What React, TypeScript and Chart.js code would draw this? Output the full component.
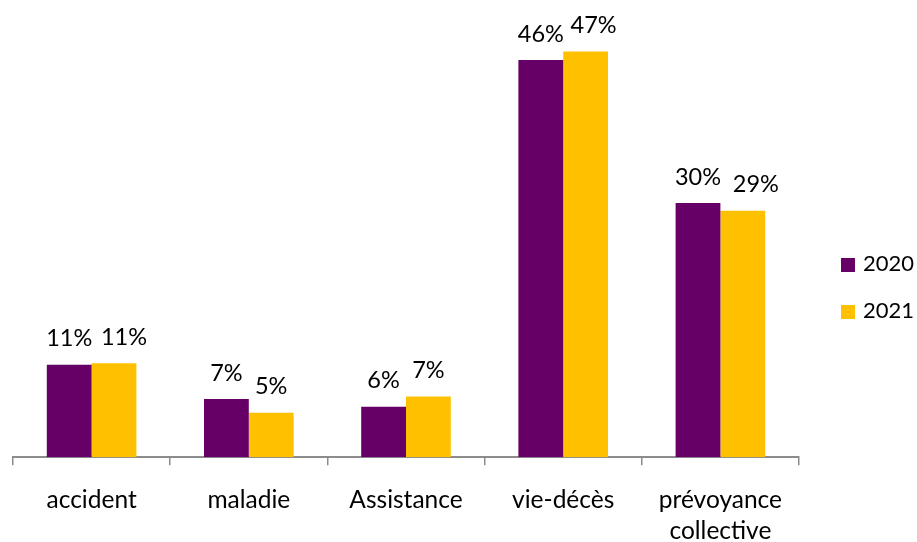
import React, { useEffect, useRef } from 'react';
import { Chart, registerables } from 'chart.js';

Chart.register(...registerables);

const categories: (string | string[])[] = ['accident', 'maladie', 'Assistance', 'vie-décès', ['prévoyance', 'collective']];
const seriesNames = ['2020', '2021'];
const values2020 = [10.8, 6.8, 5.9, 46.4, 29.7];
const values2021 = [11.0, 5.2, 7.1, 47.4, 28.8];
const labels2020 = ['11%', '7%', '6%', '46%', '30%'];
const labels2021 = ['11%', '5%', '7%', '47%', '29%'];
const colors = ['#660066', '#FFC000'];

const FONT = 'Lato';

const valueLabels = {
  id: 'valueLabels',
  afterDatasetsDraw(chart: any, _args: any, opts: any) {
    const ctx = chart.ctx;
    ctx.save();
    ctx.font = `23.5px ${FONT}`;
    ctx.fillStyle = '#000000';
    ctx.textAlign = 'center';
    ctx.textBaseline = 'alphabetic';
    chart.data.datasets.forEach((ds: any, i: number) => {
      const meta = chart.getDatasetMeta(i);
      const shifts = (opts.shift && opts.shift[i]) || [];
      meta.data.forEach((el: any, j: number) => {
        ctx.fillText(ds.valueLabels[j], el.x + (shifts[j] || 0), el.y - 18.5);
      });
    });
    ctx.restore();
  },
};

const sideLegend = {
  id: 'sideLegend',
  afterDraw(chart: any, _args: any, opts: any) {
    const ctx = chart.ctx;
    ctx.save();
    ctx.font = `${opts.fontSize}px ${FONT}`;
    ctx.textAlign = 'left';
    ctx.textBaseline = 'middle';
    chart.data.datasets.forEach((ds: any, i: number) => {
      const cy = opts.y + i * opts.step;
      ctx.fillStyle = ds.backgroundColor;
      ctx.fillRect(opts.x, cy - opts.box / 2, opts.box, opts.box);
      ctx.fillStyle = '#000000';
      ctx.fillText(ds.label, opts.x + opts.box + opts.gap, cy - 1);
    });
    ctx.restore();
  },
};

export default function App() {
  const ref = useRef<HTMLCanvasElement>(null);
  useEffect(() => {
    if (!ref.current) return;
    const chart = new Chart(ref.current, {
      type: 'bar',
      data: {
        labels: categories as any,
        datasets: [
          { label: seriesNames[0], data: values2020, backgroundColor: colors[0], valueLabels: labels2020 } as any,
          { label: seriesNames[1], data: values2021, backgroundColor: colors[1], valueLabels: labels2021 } as any,
        ],
      },
      options: {
        animation: false,
        responsive: false,
        layout: { padding: { left: 13, top: 29.3, right: 118, bottom: 0 } },
        datasets: { bar: { categoryPercentage: 0.57, barPercentage: 1 } },
        plugins: {
          legend: { display: false },
          tooltip: { enabled: false },
          valueLabels: { shift: [[0, 0, 0, 0, 0], [10, 0, 0, 8, 13]] },
          sideLegend: { x: 841, y: 265, step: 47, box: 14, gap: 8, fontSize: 22 },
        } as any,
        scales: {
          x: {
            grid: { offset: true, drawOnChartArea: false, drawTicks: true, tickLength: 8, color: '#8c8c8c', lineWidth: 1.5 },
            border: { display: true, color: '#8c8c8c', width: 2 },
            ticks: { color: '#000000', font: { family: FONT, size: 24.5, lineHeight: 1.286 }, padding: 19, maxRotation: 0, autoSkip: false },
            afterFit: (s: any) => { s.height = 84.7; },
          },
          y: { display: false, min: 0, max: 50 },
        } as any,
      },
      plugins: [valueLabels, sideLegend],
    });
    return () => chart.destroy();
  }, []);
  return (
    <div style={{ position: 'fixed', left: 0, top: 0, width: 917, height: 542, background: '#ffffff' }}>
      <canvas ref={ref} width={917} height={542} />
    </div>
  );
}
